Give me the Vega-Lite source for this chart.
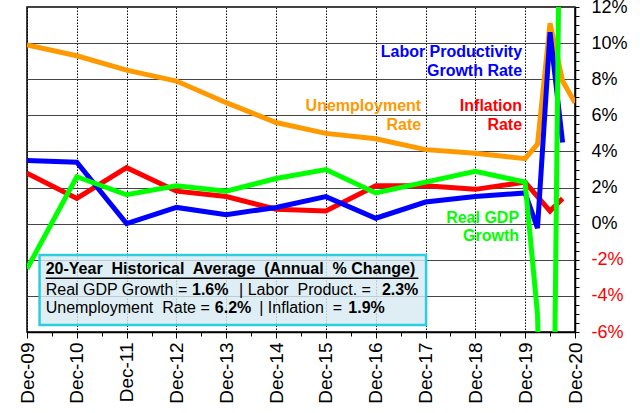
{
  "$schema": "https://vega.github.io/schema/vega-lite/v6.json",
  "width": 548,
  "height": 325,
  "autosize": {"type": "none"},
  "padding": {"left": 27, "top": 7, "right": 65, "bottom": 81},
  "background": "white",
  "config": {
    "view": {"stroke": "black", "strokeWidth": 1.5},
    "font": "Liberation Sans",
    "text": {"font": "Liberation Sans"}
  },
  "data": {
    "values": [
      {"date": "2009-12-01", "series": "Unemployment", "value": 9.9},
      {"date": "2010-12-01", "series": "Unemployment", "value": 9.3},
      {"date": "2011-12-01", "series": "Unemployment", "value": 8.5},
      {"date": "2012-12-01", "series": "Unemployment", "value": 7.9},
      {"date": "2013-12-01", "series": "Unemployment", "value": 6.7},
      {"date": "2014-12-01", "series": "Unemployment", "value": 5.6},
      {"date": "2015-12-01", "series": "Unemployment", "value": 5.0},
      {"date": "2016-12-01", "series": "Unemployment", "value": 4.7},
      {"date": "2017-12-01", "series": "Unemployment", "value": 4.1},
      {"date": "2018-12-01", "series": "Unemployment", "value": 3.9},
      {"date": "2019-12-01", "series": "Unemployment", "value": 3.6},
      {"date": "2020-03-01", "series": "Unemployment", "value": 4.4},
      {"date": "2020-06-01", "series": "Unemployment", "value": 11.1},
      {"date": "2020-09-01", "series": "Unemployment", "value": 7.9},
      {"date": "2020-12-01", "series": "Unemployment", "value": 6.7},
      {"date": "2009-12-01", "series": "Inflation", "value": 2.8},
      {"date": "2010-12-01", "series": "Inflation", "value": 1.4},
      {"date": "2011-12-01", "series": "Inflation", "value": 3.1},
      {"date": "2012-12-01", "series": "Inflation", "value": 1.8},
      {"date": "2013-12-01", "series": "Inflation", "value": 1.5},
      {"date": "2014-12-01", "series": "Inflation", "value": 0.8},
      {"date": "2015-12-01", "series": "Inflation", "value": 0.7},
      {"date": "2016-12-01", "series": "Inflation", "value": 2.1},
      {"date": "2017-12-01", "series": "Inflation", "value": 2.1},
      {"date": "2018-12-01", "series": "Inflation", "value": 1.9},
      {"date": "2019-12-01", "series": "Inflation", "value": 2.3},
      {"date": "2020-03-01", "series": "Inflation", "value": 1.5},
      {"date": "2020-06-01", "series": "Inflation", "value": 0.7},
      {"date": "2020-09-01", "series": "Inflation", "value": 1.4},
      {"date": "2009-12-01", "series": "Productivity", "value": 3.5},
      {"date": "2010-12-01", "series": "Productivity", "value": 3.4},
      {"date": "2011-12-01", "series": "Productivity", "value": 0.0},
      {"date": "2012-12-01", "series": "Productivity", "value": 0.9},
      {"date": "2013-12-01", "series": "Productivity", "value": 0.5},
      {"date": "2014-12-01", "series": "Productivity", "value": 0.9},
      {"date": "2015-12-01", "series": "Productivity", "value": 1.5},
      {"date": "2016-12-01", "series": "Productivity", "value": 0.3},
      {"date": "2017-12-01", "series": "Productivity", "value": 1.2},
      {"date": "2018-12-01", "series": "Productivity", "value": 1.5},
      {"date": "2019-12-01", "series": "Productivity", "value": 1.7},
      {"date": "2020-03-01", "series": "Productivity", "value": -0.25},
      {"date": "2020-06-01", "series": "Productivity", "value": 10.6},
      {"date": "2020-09-01", "series": "Productivity", "value": 4.5},
      {"date": "2009-12-01", "series": "GDP", "value": -2.5},
      {"date": "2010-12-01", "series": "GDP", "value": 2.6},
      {"date": "2011-12-01", "series": "GDP", "value": 1.6},
      {"date": "2012-12-01", "series": "GDP", "value": 2.1},
      {"date": "2013-12-01", "series": "GDP", "value": 1.8},
      {"date": "2014-12-01", "series": "GDP", "value": 2.5},
      {"date": "2015-12-01", "series": "GDP", "value": 3.0},
      {"date": "2016-12-01", "series": "GDP", "value": 1.7},
      {"date": "2017-12-01", "series": "GDP", "value": 2.3},
      {"date": "2018-12-01", "series": "GDP", "value": 2.9},
      {"date": "2019-12-01", "series": "GDP", "value": 2.3},
      {"date": "2020-03-01", "series": "GDP", "value": -5.0},
      {"date": "2020-06-01", "series": "GDP", "value": -31.4},
      {"date": "2020-09-01", "series": "GDP", "value": 33.1}
    ]
  },
  "resolve": {"axis": {"x": "independent", "y": "independent"}},
  "layer": [
    {
      "mark": {"type": "point", "opacity": 0},
      "encoding": {
        "x": {
          "field": "date", "type": "temporal",
          "scale": {"type": "utc", "domain": [{"year": 2009, "month": 12, "date": 1, "utc": true}, {"year": 2020, "month": 12, "date": 1, "utc": true}]},
          "axis": {
            "orient": "bottom",
            "values": [
              {"year": 2010, "month": 6, "date": 1, "utc": true},
              {"year": 2011, "month": 6, "date": 1, "utc": true},
              {"year": 2012, "month": 6, "date": 1, "utc": true},
              {"year": 2013, "month": 6, "date": 1, "utc": true},
              {"year": 2014, "month": 6, "date": 1, "utc": true},
              {"year": 2015, "month": 6, "date": 1, "utc": true},
              {"year": 2016, "month": 6, "date": 1, "utc": true},
              {"year": 2017, "month": 6, "date": 1, "utc": true},
              {"year": 2018, "month": 6, "date": 1, "utc": true},
              {"year": 2019, "month": 6, "date": 1, "utc": true},
              {"year": 2020, "month": 6, "date": 1, "utc": true}
            ],
            "labels": false, "grid": false, "domain": false, "title": null,
            "tickSize": 4, "tickColor": "black", "tickWidth": 1
          }
        },
        "y": {
          "field": "value", "type": "quantitative",
          "scale": {"domain": [-6, 12], "nice": false, "zero": false},
          "axis": {
            "orient": "right",
            "values": [-5.5,-5,-4.5,-3.5,-3,-2.5,-1.5,-1,-0.5,0.5,1,1.5,2.5,3,3.5,4.5,5,5.5,6.5,7,7.5,8.5,9,9.5,10.5,11,11.5],
            "labels": false, "grid": false, "domain": false, "title": null,
            "tickSize": 4, "tickColor": "black", "tickWidth": 1
          }
        }
      }
    },
    {
      "mark": {"type": "line", "strokeWidth": 5, "clip": true},
      "encoding": {
        "x": {
          "field": "date", "type": "temporal",
          "axis": {
            "orient": "bottom",
            "values": [
              {"year": 2009, "month": 12, "date": 1, "utc": true},
              {"year": 2010, "month": 12, "date": 1, "utc": true},
              {"year": 2011, "month": 12, "date": 1, "utc": true},
              {"year": 2012, "month": 12, "date": 1, "utc": true},
              {"year": 2013, "month": 12, "date": 1, "utc": true},
              {"year": 2014, "month": 12, "date": 1, "utc": true},
              {"year": 2015, "month": 12, "date": 1, "utc": true},
              {"year": 2016, "month": 12, "date": 1, "utc": true},
              {"year": 2017, "month": 12, "date": 1, "utc": true},
              {"year": 2018, "month": 12, "date": 1, "utc": true},
              {"year": 2019, "month": 12, "date": 1, "utc": true},
              {"year": 2020, "month": 12, "date": 1, "utc": true}
            ],
            "format": "%b-%y",
            "labelAngle": 270,
            "labelFontSize": 19,
            "labelColor": "black",
            "labelFont": "Liberation Sans",
            "labelPadding": 4,
            "labelFlush": false,
            "labelOverlap": false,
            "tickSize": 6, "tickColor": "black", "tickWidth": 1,
            "domainColor": "black", "domainWidth": 1.5,
            "grid": true, "gridColor": "black", "gridDash": [1.5, 1.5], "gridWidth": 1,
            "title": null
          }
        },
        "y": {
          "field": "value", "type": "quantitative",
          "axis": {
            "orient": "right",
            "values": [-6, -4, -2, 0, 2, 4, 6, 8, 10, 12],
            "labelExpr": "datum.value + '%'",
            "labelFontSize": 18,
            "labelFont": "Liberation Sans",
            "labelColor": {"condition": {"test": "datum.value < 0", "value": "#FF0000"}, "value": "black"},
            "labelPadding": 12,
            "labelFlush": false,
            "labelOverlap": false,
            "labelAlign": "left",
            "tickSize": 4, "tickColor": "black", "tickWidth": 1,
            "domainColor": "black", "domainWidth": 1.5,
            "grid": true, "gridColor": "#444444", "gridWidth": 1,
            "title": null
          }
        },
        "color": {
          "field": "series", "type": "nominal",
          "scale": {"domain": ["Unemployment", "Inflation", "Productivity", "GDP"], "range": ["#FF9900", "#FF0000", "#0000FF", "#00FF00"]},
          "legend": null
        }
      }
    },
    {
      "data": {"values": [{}]},
      "mark": {"type": "text", "text": ["Labor Productivity", "Growth Rate"], "align": "right", "baseline": "alphabetic", "fontSize": 16, "fontWeight": "bold", "lineHeight": 19, "color": "#0000FF"},
      "encoding": {
        "x": {"datum": {"year": 2019, "month": 11, "date": 9, "utc": true}, "type": "temporal", "axis": null},
        "y": {"datum": 9.21, "type": "quantitative", "axis": null}
      }
    },
    {
      "data": {"values": [{}]},
      "mark": {"type": "text", "text": ["Unemployment", "Rate"], "align": "right", "baseline": "alphabetic", "fontSize": 16, "fontWeight": "bold", "lineHeight": 18.5, "color": "#FF9900"},
      "encoding": {
        "x": {"datum": {"year": 2017, "month": 10, "date": 30, "utc": true}, "type": "temporal", "axis": null},
        "y": {"datum": 6.24, "type": "quantitative", "axis": null}
      }
    },
    {
      "data": {"values": [{}]},
      "mark": {"type": "text", "text": ["Inflation", "Rate"], "align": "right", "baseline": "alphabetic", "fontSize": 16, "fontWeight": "bold", "lineHeight": 18.5, "color": "#FF0000"},
      "encoding": {
        "x": {"datum": {"year": 2019, "month": 11, "date": 9, "utc": true}, "type": "temporal", "axis": null},
        "y": {"datum": 6.24, "type": "quantitative", "axis": null}
      }
    },
    {
      "data": {"values": [{}]},
      "mark": {"type": "text", "text": ["Real GDP", "Growth"], "align": "right", "baseline": "alphabetic", "fontSize": 16, "fontWeight": "bold", "lineHeight": 18, "color": "#00FF00"},
      "encoding": {
        "x": {"datum": {"year": 2019, "month": 10, "date": 18, "utc": true}, "type": "temporal", "axis": null},
        "y": {"datum": 0.02, "type": "quantitative", "axis": null}
      }
    },
    {
      "data": {"values": [{}]},
      "mark": {"type": "rect", "fill": "#D8EAF1", "fillOpacity": 0.82, "stroke": "#2CCDE0", "strokeOpacity": 1, "strokeWidth": 2.5},
      "encoding": {
        "x": {"datum": {"year": 2010, "month": 3, "date": 3, "utc": true}, "type": "temporal", "axis": null},
        "x2": {"datum": {"year": 2017, "month": 12, "date": 5, "utc": true}},
        "y": {"datum": -1.73, "type": "quantitative", "axis": null},
        "y2": {"datum": -5.61}
      }
    },
    {
      "data": {"values": [{}]},
      "mark": {"type": "text", "text": "20-Year\u00a0 Historical\u00a0 Average\u00a0 (Annual\u00a0 % Change)", "align": "left", "baseline": "alphabetic", "fontSize": 16, "fontWeight": "bold", "color": "black"},
      "encoding": {
        "x": {"datum": {"year": 2010, "month": 4, "date": 17, "utc": true}, "type": "temporal", "axis": null},
        "y": {"datum": -2.8, "type": "quantitative", "axis": null}
      }
    },
    {
      "data": {"values": [{}]},
      "mark": {"type": "rule", "color": "black", "strokeWidth": 1.5},
      "encoding": {
        "x": {"datum": {"year": 2010, "month": 4, "date": 17, "utc": true}, "type": "temporal", "axis": null},
        "x2": {"datum": {"year": 2017, "month": 10, "date": 10, "utc": true}},
        "y": {"datum": -3.02, "type": "quantitative", "axis": null}
      }
    },
    {
      "data": {"values": [{}]},
      "mark": {"type": "text", "text": "Real GDP Growth =", "align": "left", "baseline": "alphabetic", "fontSize": 16, "color": "black"},
      "encoding": {
        "x": {"datum": {"year": 2010, "month": 4, "date": 17, "utc": true}, "type": "temporal", "axis": null},
        "y": {"datum": -3.95, "type": "quantitative", "axis": null}
      }
    },
    {
      "data": {"values": [{}]},
      "mark": {"type": "text", "text": "1.6%", "align": "left", "baseline": "alphabetic", "fontSize": 16, "fontWeight": "bold", "color": "black"},
      "encoding": {
        "x": {"datum": {"year": 2013, "month": 3, "date": 25, "utc": true}, "type": "temporal", "axis": null},
        "y": {"datum": -3.95, "type": "quantitative", "axis": null}
      }
    },
    {
      "data": {"values": [{}]},
      "mark": {"type": "text", "text": "| Labor\u00a0 Product. =", "align": "left", "baseline": "alphabetic", "fontSize": 16, "color": "black"},
      "encoding": {
        "x": {"datum": {"year": 2014, "month": 3, "date": 5, "utc": true}, "type": "temporal", "axis": null},
        "y": {"datum": -3.95, "type": "quantitative", "axis": null}
      }
    },
    {
      "data": {"values": [{}]},
      "mark": {"type": "text", "text": "2.3%", "align": "left", "baseline": "alphabetic", "fontSize": 16, "fontWeight": "bold", "color": "black"},
      "encoding": {
        "x": {"datum": {"year": 2017, "month": 1, "date": 15, "utc": true}, "type": "temporal", "axis": null},
        "y": {"datum": -3.95, "type": "quantitative", "axis": null}
      }
    },
    {
      "data": {"values": [{}]},
      "mark": {"type": "text", "text": "Unemployment\u00a0 Rate =", "align": "left", "baseline": "alphabetic", "fontSize": 16, "color": "black"},
      "encoding": {
        "x": {"datum": {"year": 2010, "month": 4, "date": 17, "utc": true}, "type": "temporal", "axis": null},
        "y": {"datum": -4.96, "type": "quantitative", "axis": null}
      }
    },
    {
      "data": {"values": [{}]},
      "mark": {"type": "text", "text": "6.2%", "align": "left", "baseline": "alphabetic", "fontSize": 16, "fontWeight": "bold", "color": "black"},
      "encoding": {
        "x": {"datum": {"year": 2013, "month": 9, "date": 8, "utc": true}, "type": "temporal", "axis": null},
        "y": {"datum": -4.96, "type": "quantitative", "axis": null}
      }
    },
    {
      "data": {"values": [{}]},
      "mark": {"type": "text", "text": "| Inflation\u00a0 =", "align": "left", "baseline": "alphabetic", "fontSize": 16, "color": "black"},
      "encoding": {
        "x": {"datum": {"year": 2014, "month": 7, "date": 31, "utc": true}, "type": "temporal", "axis": null},
        "y": {"datum": -4.96, "type": "quantitative", "axis": null}
      }
    },
    {
      "data": {"values": [{}]},
      "mark": {"type": "text", "text": "1.9%", "align": "left", "baseline": "alphabetic", "fontSize": 16, "fontWeight": "bold", "color": "black"},
      "encoding": {
        "x": {"datum": {"year": 2016, "month": 5, "date": 14, "utc": true}, "type": "temporal", "axis": null},
        "y": {"datum": -4.96, "type": "quantitative", "axis": null}
      }
    }
  ]
}
